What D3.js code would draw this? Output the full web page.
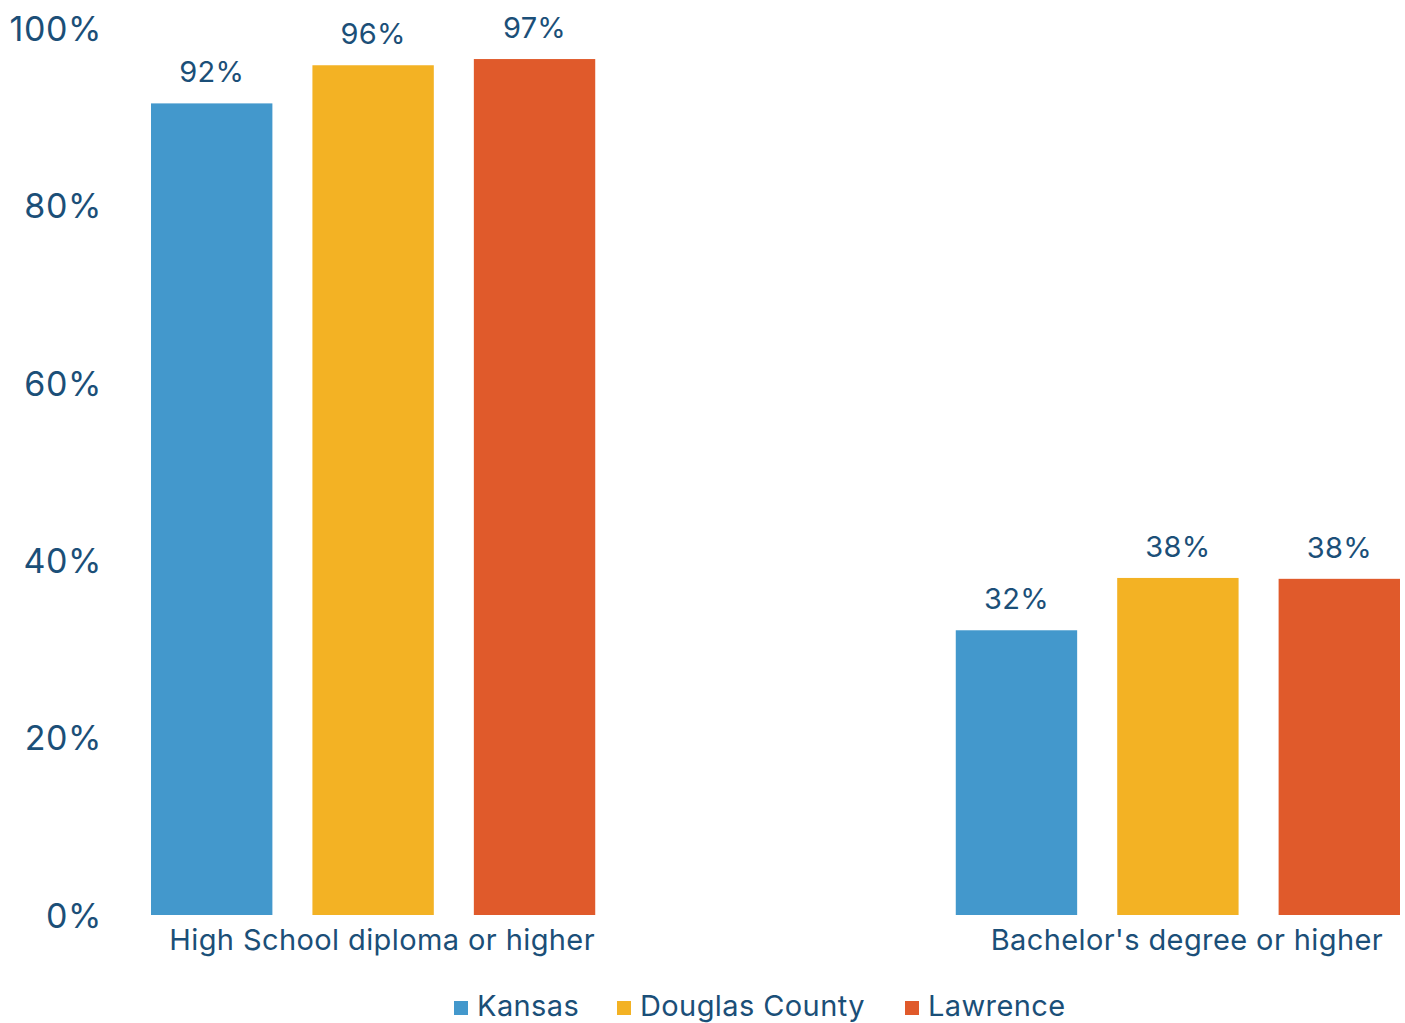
<!DOCTYPE html>
<html>
<head>
<meta charset="utf-8">
<script src="https://cdn.jsdelivr.net/npm/d3@7"></script>
<style>
  html, body { margin: 0; padding: 0; background: #fff; }
  svg { display: block; }
  text { font-family: Inter, "Open Sans", sans-serif; fill: #1b4f78; }
</style>
</head>
<body>
<svg id="chart" width="1405" height="1023"></svg>
<script>
// Educational attainment, share of adults
const categories = ["High School diploma or higher", "Bachelor's degree or higher"];
const seriesNames = ["Kansas", "Douglas County", "Lawrence"];
const kansas = [0.915, 0.321];
const douglasCounty = [0.958, 0.380];
const lawrence = [0.965, 0.379];
const yTicks = [0, 0.2, 0.4, 0.6, 0.8, 1.0];
const colors = ["#4398cc", "#f3b224", "#e05a2b"];

const seriesValues = [kansas, douglasCounty, lawrence];
const rows = categories.map((c, i) => ({
  category: c,
  values: seriesNames.map((s, j) => ({ series: s, value: seriesValues[j][i] }))
}));

const svg = d3.select("#chart");
const pct = d3.format(".0%");

const x0 = d3.scaleBand().domain(categories).range([151, 1400]).paddingInner(0.448).paddingOuter(0);
const x1 = d3.scaleBand().domain(seriesNames).range([0, x0.bandwidth()]).paddingInner(0.248).paddingOuter(0);
const y = d3.scaleLinear().domain([0, 1]).range([915, 28]);
const color = d3.scaleOrdinal().domain(seriesNames).range(colors);

// y axis labels only, no line or ticks
const yAxis = d3.axisLeft(y).tickValues(yTicks).tickFormat(pct).tickSize(0).tickPadding(0);
const gy = svg.append("g").attr("transform", "translate(102,0)").call(yAxis);
gy.select(".domain").remove();
gy.selectAll("text")
  .attr("font-family", "Inter, 'Open Sans', sans-serif")
  .attr("font-size", 34)
  .attr("letter-spacing", 0.6)
  .attr("fill", "#1b4f78")
  .attr("dy", "0.36em");

// grouped bars
const groups = svg.append("g").selectAll("g")
  .data(rows).join("g")
  .attr("transform", d => `translate(${x0(d.category)},0)`);

groups.selectAll("rect")
  .data(d => d.values).join("rect")
  .attr("x", d => x1(d.series))
  .attr("width", x1.bandwidth())
  .attr("y", d => y(d.value))
  .attr("height", d => y(0) - y(d.value))
  .attr("fill", d => color(d.series));

groups.selectAll("text.value")
  .data(d => d.values).join("text")
  .attr("class", "value")
  .attr("x", d => x1(d.series) + x1.bandwidth() / 2)
  .attr("y", d => y(d.value) - 21)
  .attr("text-anchor", "middle")
  .attr("font-size", 29)
  .attr("letter-spacing", 0.3)
  .text(d => pct(d.value));

// category labels under each group
const xAxis = d3.axisBottom(x0).tickSize(0).tickPadding(0);
const gx = svg.append("g").attr("transform", "translate(9,0)").call(xAxis);
gx.select(".domain").remove();
gx.selectAll("text")
  .attr("font-family", "Inter, 'Open Sans', sans-serif")
  .attr("font-size", 29)
  .attr("letter-spacing", 0.4)
  .attr("fill", "#1b4f78")
  .attr("y", 950)
  .attr("dy", 0);

// legend
const legendX = [454, 617, 905];
const legend = svg.append("g").selectAll("g")
  .data(seriesNames).join("g")
  .attr("transform", (d, i) => `translate(${legendX[i]},1001)`);
legend.append("rect").attr("width", 14).attr("height", 14).attr("fill", d => color(d));
legend.append("text").attr("x", 23).attr("y", 15).attr("font-size", 29).attr("letter-spacing", 0.4).text(d => d);
</script>
</body>
</html>
